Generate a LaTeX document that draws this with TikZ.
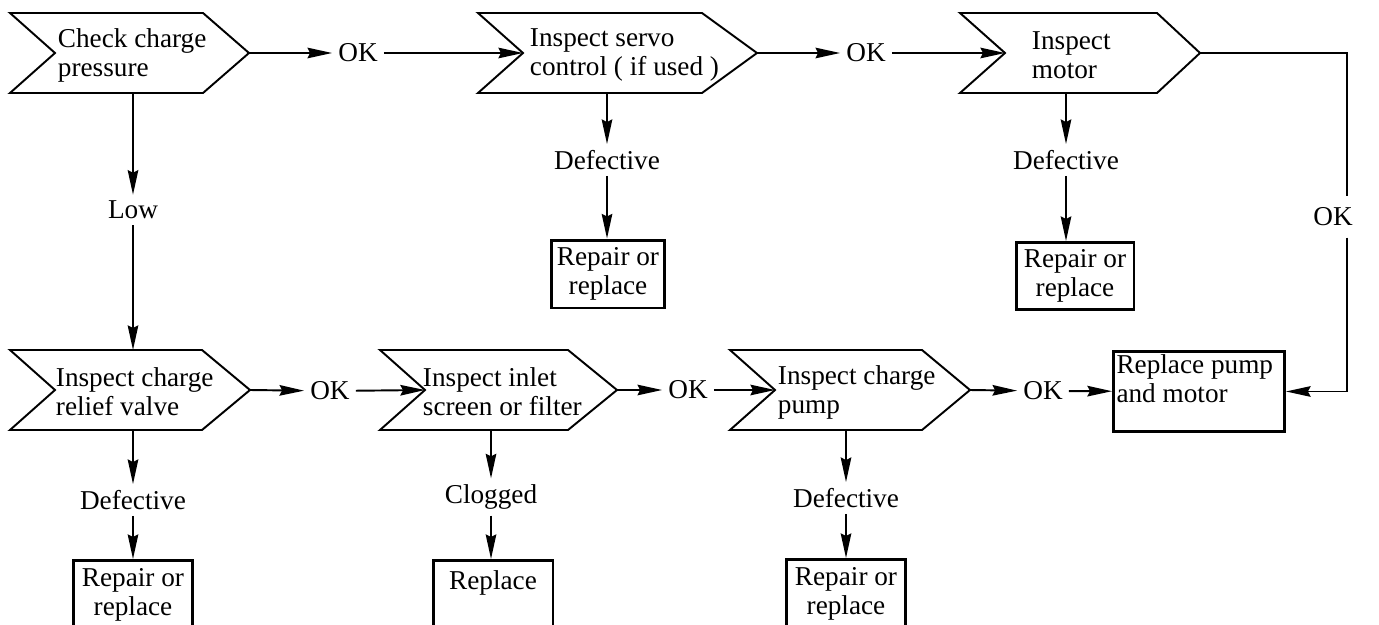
\documentclass[tikz,border=0pt]{standalone}
\usepackage{fontspec}
\setmainfont{Liberation Serif}
\usetikzlibrary{arrows.meta}
\tikzset{
  chev/.style={draw, line width=1.1pt, line join=miter},
  ctext/.style={anchor=west, align=left, inner sep=0pt},
  lbl/.style={inner sep=3pt},
  rbox/.style={draw, line width=1.7pt, align=center, inner sep=2pt},
  link/.style={-{Stealth[length=14pt,width=6pt,inset=1.5pt]}}
}
% name, left x, right x, tip x, middle y, x of the vertical link
\newcommand\chevron[6]{%
  \draw[chev] (#2,#5-40) -- (#2+45,#5) -- (#2,#5+40) -- (#3,#5+40) -- (#4,#5) -- (#3,#5-40) -- cycle;
  \coordinate (#1-in) at (#2+45,#5);
  \coordinate (#1-out) at (#4,#5);
  \coordinate (#1-n) at (#6,#5-40);
  \coordinate (#1-s) at (#6,#5+40);
}
\begin{document}
\begin{tikzpicture}[x=0.02cm, y=-0.02cm, line width=1.1pt,
  font=\rmfamily\fontsize{15.5}{16.5}\selectfont]
\useasboundingbox (0,0) rectangle (1379,625);
\clip (0,0) rectangle (1379,625);

\chevron{c1}{10}{203}{249}{53}{133}
\chevron{c2}{478}{702}{757}{53}{607}
\chevron{c3}{960}{1157}{1200}{53}{1066}
\chevron{c4}{10}{202}{250}{390}{133}
\chevron{c5}{380}{568}{617}{390}{491}
\chevron{c6}{730}{922}{970}{390}{846}

\node[ctext] (t1) at (57,55) {Check charge\\pressure};
\node[ctext] (t2) at (529,55) {Inspect servo\\control ( if used )};
\node[ctext] (t3) at (1031,55) {Inspect\\motor};
\node[ctext] (t4) at (55,392) {Inspect charge\\relief valve};
\node[ctext] (t5) at (422,392) {Inspect inlet\\screen or filter};
\node[ctext] (t6) at (777,392) {Inspect charge\\pump};

\node[lbl] (ok1) at (358,53) {OK};
\node[lbl] (ok2) at (866,53) {OK};
\node[lbl] (ok3) at (330,391) {OK};
\node[lbl] (ok4) at (688,390) {OK};
\node[lbl] (ok5) at (1043,391) {OK};
\node[lbl, inner sep=6pt] (ok6) at (1333,217) {OK};
\node[lbl] (low) at (133,210) {Low};
\node[lbl] (def2) at (607,160) {Defective};
\node[lbl] (def3) at (1066,160) {Defective};
\node[lbl] (def4) at (133,500) {Defective};
\node[lbl] (clog) at (491,497) {Clogged};
\node[lbl] (def6) at (846,498) {Defective};

\node[rbox, minimum width=2.26cm, minimum height=1.36cm] (rep2) at (608,274) {Repair or\\replace};
\node[rbox, minimum width=2.36cm, minimum height=1.34cm] (rep3) at (1075,276) {Repair or\\replace};
\node[rbox, minimum width=2.4cm, minimum height=1.36cm, anchor=north] (rep4) at (133,559) {Repair or\\replace};
\node[rbox, minimum width=2.4cm, minimum height=1.36cm, anchor=north] (rep5) at (493,559) {Replace\\\mbox{}};
\node[rbox, minimum width=2.38cm, minimum height=1.36cm, anchor=north] (rep6) at (846,558) {Repair or\\replace};
\node[rbox, anchor=north west, inner sep=0.06cm] (bigbox) at (1112,350)
  {\parbox[c][1.48cm][t]{3.3cm}{\raggedright Replace pump\\and motor}};

\coordinate (turn) at (1347,53);

\draw[link] (c1-out) -- (ok1);
\draw[link] (ok1) -- (c2-in);
\draw[link] (c2-out) -- (ok2);
\draw[link] (ok2) -- (c3-in);
\draw (c3-out) -- (turn) -- (turn |- ok6.north);
\draw[link] (turn |- ok6.south) |- (bigbox);

\draw[link] (c1-s) -- (low);
\draw[link] (low) -- (c4-n);
\draw[link] (c2-s) -- (def2);
\draw[link] (def2) -- (def2 |- rep2.north);
\draw[link] (c3-s) -- (def3);
\draw[link] (def3) -- (def3 |- rep3.north);

\draw[link] (c4-out) -- (ok3);
\draw[link] (ok3) -- (c5-in);
\draw[link] (c5-out) -- (ok4);
\draw[link] (ok4) -- (c6-in);
\draw[link] (c6-out) -- (ok5);
\draw[link] (ok5) -- (bigbox);

\draw[link] (c4-s) -- (def4);
\draw[link] (def4) -- (rep4);
\draw[link] (c5-s) -- (clog);
\draw[link] (clog) -- (clog |- rep5.north);
\draw[link] (c6-s) -- (def6);
\draw[link] (def6) -- (rep6);
\end{tikzpicture}
\end{document}
